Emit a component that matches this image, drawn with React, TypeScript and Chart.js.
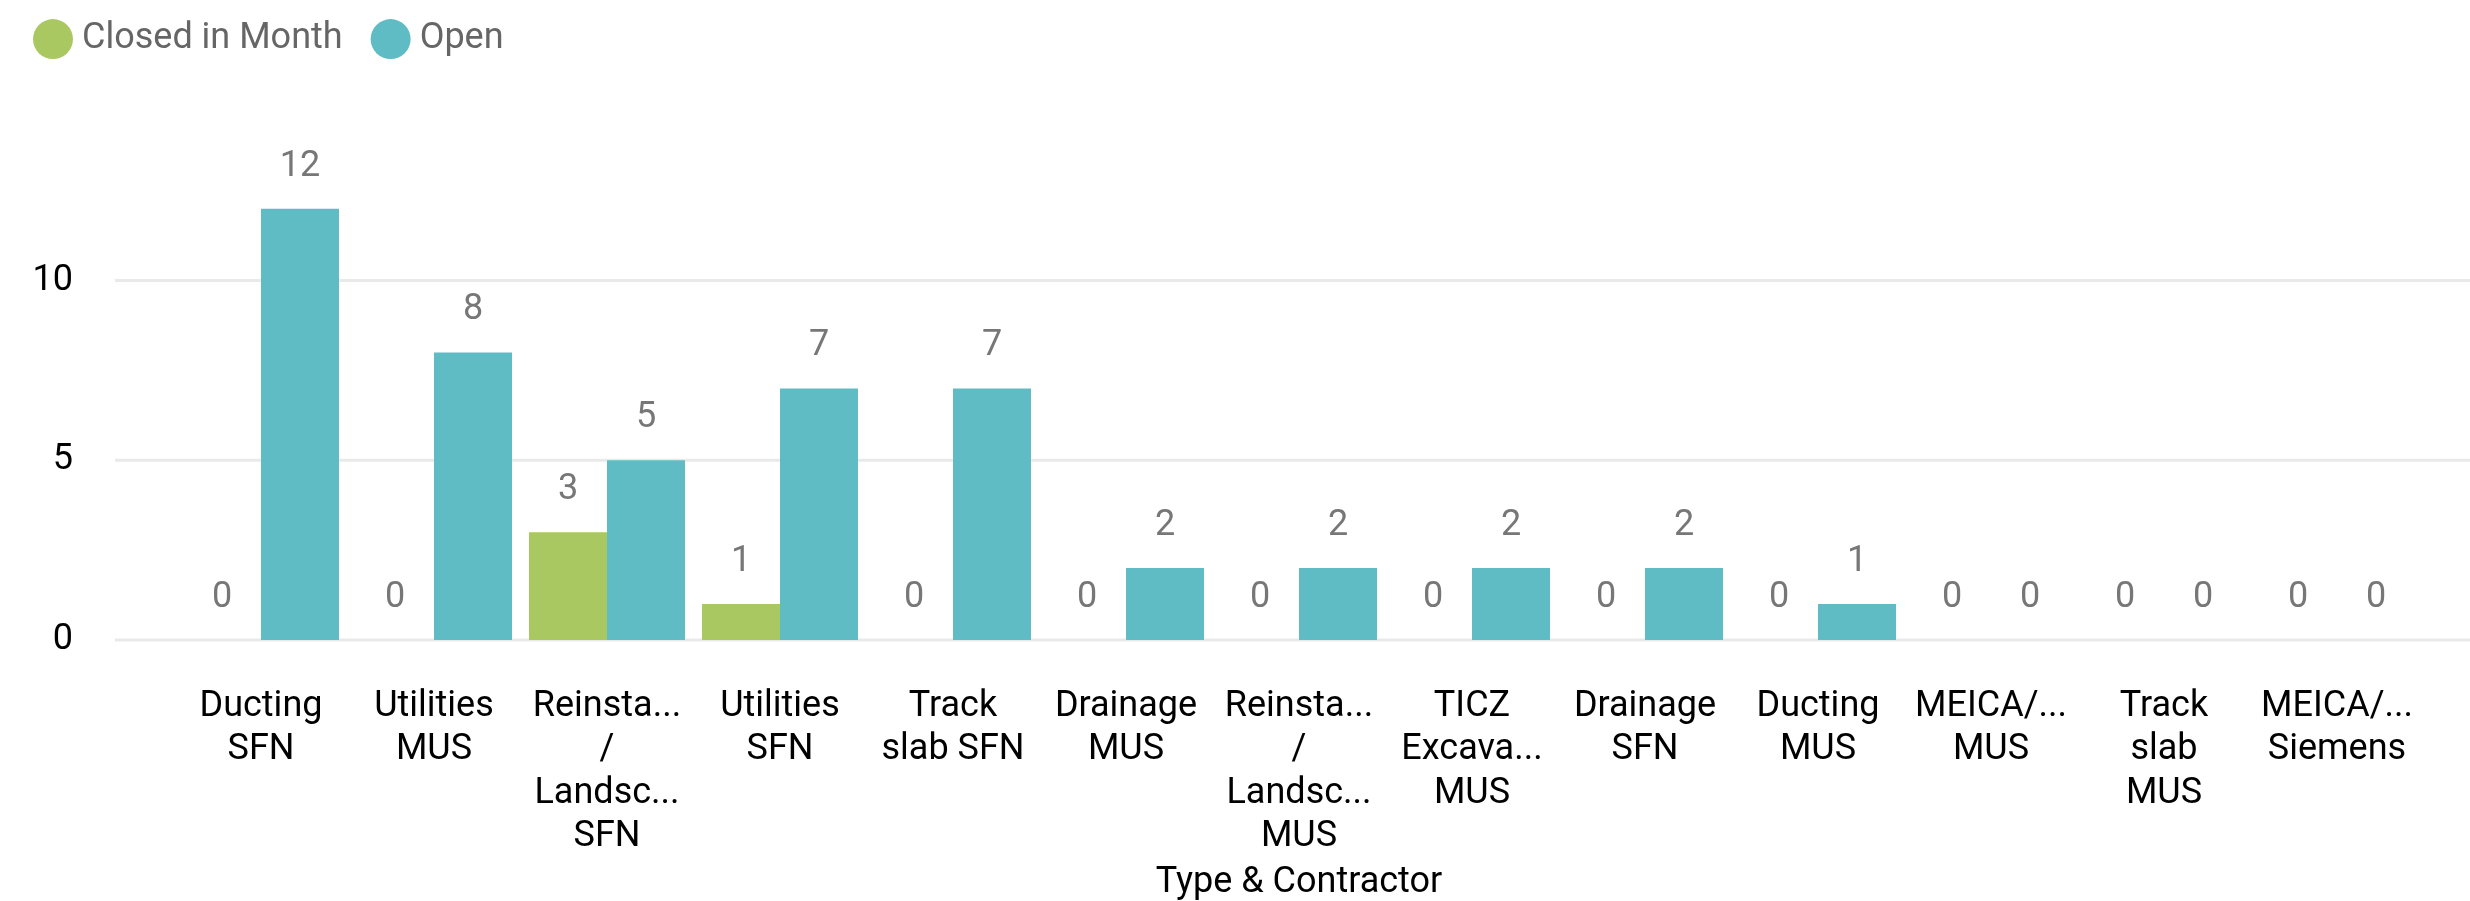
import React, { useEffect, useRef } from 'react';
import { Chart, registerables } from 'chart.js';

Chart.register(...registerables);

const CATEGORIES: string[][] = [
  ['Ducting', 'SFN'],
  ['Utilities', 'MUS'],
  ['Reinsta...', '/', 'Landsc...', 'SFN'],
  ['Utilities', 'SFN'],
  ['Track', 'slab SFN'],
  ['Drainage', 'MUS'],
  ['Reinsta...', '/', 'Landsc...', 'MUS'],
  ['TICZ', 'Excava...', 'MUS'],
  ['Drainage', 'SFN'],
  ['Ducting', 'MUS'],
  ['MEICA/...', 'MUS'],
  ['Track', 'slab', 'MUS'],
  ['MEICA/...', 'Siemens'],
];

const CLOSED_IN_MONTH: number[] = [0, 0, 3, 1, 0, 0, 0, 0, 0, 0, 0, 0, 0];
const OPEN: number[] = [12, 8, 5, 7, 7, 2, 2, 2, 2, 1, 0, 0, 0];

const SERIES_NAMES = ['Closed in Month', 'Open'];
const Y_TICKS: number[] = [0, 5, 10];
const Y_MAX = 15.94;
const X_TITLE = 'Type & Contractor';

const FONT = 'Roboto, "Noto Sans", sans-serif';
const GREEN = '#AAC862';
const TEAL = '#5FBBC4';

const gridPlugin = {
  id: 'pbiGrid',
  beforeDatasetsDraw(chart: any) {
    const { ctx, chartArea } = chart;
    const yScale = chart.scales.y;
    ctx.save();
    ctx.strokeStyle = '#e9e9e9';
    ctx.lineWidth = 3;
    yScale.ticks.forEach((t: any) => {
      const y = yScale.getPixelForValue(t.value);
      ctx.beginPath();
      ctx.moveTo(chartArea.left - 59.5, y);
      ctx.lineTo(chart.width, y);
      ctx.stroke();
    });
    ctx.restore();
  },
};

const dataLabelPlugin = {
  id: 'pbiDataLabels',
  afterDatasetsDraw(chart: any) {
    const { ctx } = chart;
    ctx.save();
    ctx.font = `36px ${FONT}`;
    ctx.fillStyle = '#777777';
    ctx.textAlign = 'center';
    ctx.textBaseline = 'alphabetic';
    chart.data.datasets.forEach((ds: any, i: number) => {
      const meta = chart.getDatasetMeta(i);
      meta.data.forEach((el: any, j: number) => {
        ctx.fillText(String(ds.data[j]), el.x, el.y - 33);
      });
    });
    ctx.restore();
  },
};

export default function App() {
  const canvasRef = useRef<HTMLCanvasElement | null>(null);

  useEffect(() => {
    if (!canvasRef.current) return;
    const chart = new Chart(canvasRef.current, {
      type: 'bar',
      data: {
        labels: CATEGORIES,
        datasets: [
          {
            label: SERIES_NAMES[0],
            data: CLOSED_IN_MONTH,
            backgroundColor: GREEN,
            borderWidth: 0,
            categoryPercentage: 0.9017,
            barPercentage: 1,
          },
          {
            label: SERIES_NAMES[1],
            data: OPEN,
            backgroundColor: TEAL,
            borderWidth: 0,
            categoryPercentage: 0.9017,
            barPercentage: 1,
          },
        ],
      },
      options: {
        responsive: true,
        maintainAspectRatio: false,
        animation: false,
        layout: { padding: { left: 5, right: 46.5, top: 0, bottom: 0 } },
        plugins: {
          legend: {
            display: true,
            position: 'top',
            align: 'start',
            labels: {
              usePointStyle: true,
              pointStyle: 'circle',
              boxWidth: 22,
              boxHeight: 28.28,
              padding: 37,
              color: '#666666',
              font: { family: FONT, size: 36 },
            },
          },
          tooltip: { enabled: false },
        },
        scales: {
          x: {
            grid: { display: false, drawTicks: false },
            border: { display: false },
            ticks: {
              color: '#000000',
              font: { family: FONT, size: 36, lineHeight: 1.21 },
              padding: 45,
              maxRotation: 0,
              minRotation: 0,
              autoSkip: false,
            },
            title: {
              display: true,
              text: X_TITLE,
              color: '#000000',
              font: { family: FONT, size: 36, lineHeight: 1 },
              padding: 0,
            },
            afterFit: (s: any) => {
              s.height = 261;
            },
          },
          y: {
            min: 0,
            max: Y_MAX,
            grid: { display: false, drawTicks: false },
            border: { display: false },
            ticks: {
              color: '#000000',
              font: { family: FONT, size: 36 },
              padding: 101.5,
            },
            afterBuildTicks: (s: any) => {
              s.ticks = Y_TICKS.map((v) => ({ value: v }));
            },
            afterFit: (s: any) => {
              s.width = 169.5;
            },
          },
        },
      },
      plugins: [gridPlugin, dataLabelPlugin],
    } as any);
    return () => chart.destroy();
  }, []);

  return (
    <div
      style={{
        position: 'fixed',
        left: 0,
        top: 0,
        width: 2470,
        height: 901,
        overflow: 'hidden',
        background: '#ffffff',
      }}
    >
      <div
        style={{
          position: 'absolute',
          left: 0,
          top: -56,
          width: 2470,
          height: 957,
        }}
      >
        <canvas ref={canvasRef} />
      </div>
    </div>
  );
}
